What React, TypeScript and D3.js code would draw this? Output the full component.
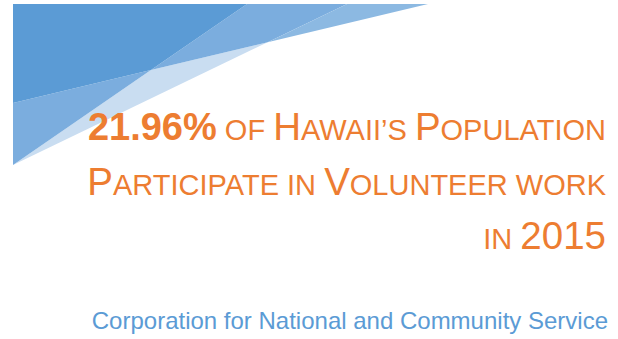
import React from "react";
import * as d3 from "d3";

const W = 618;
const H = 339;

// Headline content: [text, kind] where kind = "bold" | "big" | "small"
const line1: [string, string][] = [
  ["21.96%", "bold"],
  [" OF ", "small"],
  ["H", "big"],
  ["AWAII\u2019S ", "small"],
  ["P", "big"],
  ["OPULATION", "small"],
];
const line2: [string, string][] = [
  ["P", "big"],
  ["ARTICIPATE IN ", "small"],
  ["V", "big"],
  ["OLUNTEER WORK", "small"],
];
const line3: [string, string][] = [
  ["IN ", "small"],
  ["2015", "big"],
];
const headlineLines = [line1, line2, line3];
const footerText = "Corporation for National and Community Service";

// Decorative corner shape vertices
const bannerTop = 4;
const bannerLeft = 13;
const topStops = [247, 347, 428];
const leftStops = [103, 165];

type Pt = [number, number];
function intersect(a: Pt, b: Pt, c: Pt, d: Pt): Pt {
  const x1 = a[0], y1 = a[1], x2 = b[0], y2 = b[1];
  const x3 = c[0], y3 = c[1], x4 = d[0], y4 = d[1];
  const den = (x1 - x2) * (y3 - y4) - (y1 - y2) * (x3 - x4);
  const t = ((x1 - x3) * (y3 - y4) - (y1 - y3) * (x3 - x4)) / den;
  return [x1 + t * (x2 - x1), y1 + t * (y2 - y1)];
}

const orange = "#ed7d31";
const blue = "#5b9bd5";
const font = "'Liberation Sans', Arial, Helvetica, sans-serif";

export default function App() {
  const A: Pt = [bannerLeft, bannerTop];
  const P: Pt = [topStops[0], bannerTop];
  const Q: Pt = [topStops[1], bannerTop];
  const R: Pt = [topStops[2], bannerTop];
  const L1: Pt = [bannerLeft, leftStops[0]];
  const L2: Pt = [bannerLeft, leftStops[1]];
  const X = intersect(R, L1, P, L2);
  const Y = intersect(R, L1, Q, L2);
  const line = d3.line().curve(d3.curveLinearClosed);

  const regions: { pts: Pt[]; fill: string }[] = [
    { pts: [X, Y, L2], fill: "#c9ddf1" },
    { pts: [L1, X, L2], fill: "#7badde" },
    { pts: [P, Q, Y, X], fill: "#7badde" },
    { pts: [Q, R, Y], fill: "#8cb9e2" },
    { pts: [A, P, X, L1], fill: blue },
  ];

  const sizes: Record<string, number> = { bold: 38, big: 38.5, small: 29 };
  const baselines = [140, 195, 249];

  return (
    <svg width={W} height={H} style={{ position: "absolute", left: 0, top: 0 }}>
      <rect width={W} height={H} fill="#ffffff" />
      {regions.map((r, i) => (
        <path key={i} d={line(r.pts) || ""} fill={r.fill} />
      ))}
      {headlineLines.map((ln, i) => (
        <text
          key={i}
          x={606}
          y={baselines[i]}
          textAnchor="end"
          fill={orange}
          fontFamily={font}
          style={{ whiteSpace: "pre" }}
        >
          {ln.map(([t, k], j) => (
            <tspan key={j} fontSize={sizes[k]} fontWeight={k === "bold" ? 700 : 400}>
              {t}
            </tspan>
          ))}
        </text>
      ))}
      <text x={608} y={329} textAnchor="end" fill={blue} fontSize={24} fontFamily={font}>
        {footerText}
      </text>
    </svg>
  );
}
